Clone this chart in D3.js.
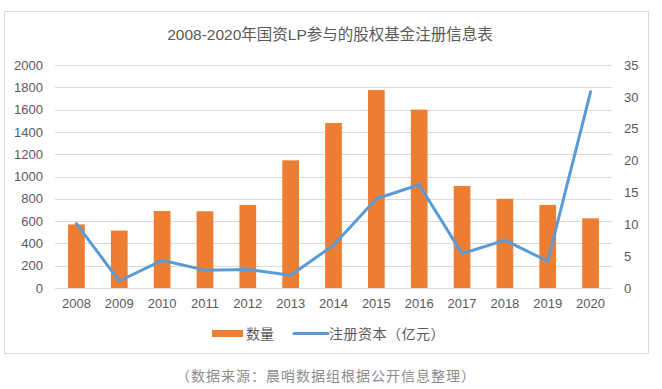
<!DOCTYPE html>
<html>
<head>
<meta charset="utf-8">
<script src="https://cdnjs.cloudflare.com/ajax/libs/d3/7.8.5/d3.min.js"></script>
<style>
body { margin: 0; background: #fff; font-family: "Liberation Sans", "Noto Sans CJK SC", sans-serif; }
.axis text { fill: #595959; font-size: 13px; }
</style>
</head>
<body>
<script>
var width = 662;
var height = 389;
var margin = {top: 65, right: 50, bottom: 101, left: 55};
var w = width - margin.left - margin.right;
var h = height - margin.top - margin.bottom;

// data
var years = ["2008", "2009", "2010", "2011", "2012", "2013", "2014", "2015", "2016", "2017", "2018", "2019", "2020"];
var counts = [570, 515, 690, 688, 745, 1145, 1480, 1775, 1600, 915, 800, 745, 625];
var capital = [10.1, 1.1, 4.35, 2.8, 2.9, 2.0, 6.7, 14.0, 16.2, 5.4, 7.5, 4.2, 30.8];
var leftTicks = [0, 200, 400, 600, 800, 1000, 1200, 1400, 1600, 1800, 2000];
var rightTicks = [0, 5, 10, 15, 20, 25, 30, 35];

var title = "2008-2020年国资LP参与的股权基金注册信息表";
var legendNames = ["数量", "注册资本（亿元）"];
var source = "（数据来源：晨哨数据组根据公开信息整理）";

var barColor = "#ED7D31";
var lineColor = "#5B9BD5";

var root = d3.select("body").append("svg")
	.attr("width", width)
	.attr("height", height);

// chart frame
root.append("rect")
	.attr("x", 4.5)
	.attr("y", 11.5)
	.attr("width", 644)
	.attr("height", 342)
	.style("fill", "none")
	.style("stroke", "#d9d9d9");

root.append("text")
	.attr("x", 330)
	.attr("y", 40)
	.style("text-anchor", "middle")
	.style("font-family", "'Liberation Sans', 'Noto Sans CJK SC', sans-serif")
	.style("font-size", "15.5px")
	.style("fill", "#595959")
	.text(title);

var chart = root.append("g")
	.attr("transform", "translate(" + margin.left + "," + margin.top + ")");

var x = d3.scaleBand()
	.domain(years)
	.range([0, w])
	.paddingInner(0.61)
	.paddingOuter(0.305);

var y = d3.scaleLinear()
	.domain([0, 2000])
	.range([h, 0]);

var y2 = d3.scaleLinear()
	.domain([0, 35])
	.range([h, 0]);

// gridlines
chart.selectAll(".grid")
	.data(leftTicks)
	.enter().append("line")
	.attr("class", "grid")
	.attr("x1", 0)
	.attr("x2", w)
	.attr("y1", function(d) { return Math.round(y(d)) + 0.5; })
	.attr("y2", function(d) { return Math.round(y(d)) + 0.5; })
	.style("stroke", "#d9d9d9");

var yAxis = d3.axisLeft(y).tickValues(leftTicks).tickFormat(d3.format("d")).tickSize(0).tickPadding(12);
chart.append("g")
	.attr("class", "axis")
	.call(yAxis)
	.call(function(g) { g.select(".domain").remove(); });

var yAxis2 = d3.axisRight(y2).tickValues(rightTicks).tickFormat(d3.format("d")).tickSize(0).tickPadding(12);
chart.append("g")
	.attr("class", "axis")
	.attr("transform", "translate(" + w + ",0)")
	.call(yAxis2)
	.call(function(g) { g.select(".domain").remove(); });

var xAxis = d3.axisBottom(x).tickSize(0).tickPadding(11);
chart.append("g")
	.attr("class", "axis")
	.attr("transform", "translate(0," + h + ")")
	.call(xAxis)
	.call(function(g) { g.select(".domain").remove(); });

// bars
chart.selectAll(".bar")
	.data(counts)
	.enter().append("rect")
	.attr("class", "bar")
	.attr("x", function(d, i) { return x(years[i]); })
	.attr("width", x.bandwidth())
	.attr("y", function(d) { return y(d); })
	.attr("height", function(d) { return h - y(d); })
	.style("fill", barColor);

// line
var line = d3.line()
	.x(function(d, i) { return x(years[i]) + x.bandwidth() / 2; })
	.y(function(d) { return y2(d); });

chart.append("path")
	.datum(capital)
	.attr("d", line)
	.style("fill", "none")
	.style("stroke", lineColor)
	.style("stroke-width", 3)
	.style("stroke-linejoin", "round")
	.style("stroke-linecap", "round");

// legend
var legend = root.append("g");
legend.append("rect")
	.attr("x", 212)
	.attr("y", 330)
	.attr("width", 31)
	.attr("height", 7)
	.style("fill", barColor);
legend.append("text")
	.attr("x", 246)
	.attr("y", 338.5)
	.style("font-family", "'Noto Sans CJK SC', sans-serif")
	.style("font-size", "14px")
	.style("fill", "#595959")
	.text(legendNames[0]);
legend.append("line")
	.attr("x1", 294)
	.attr("x2", 328)
	.attr("y1", 333.5)
	.attr("y2", 333.5)
	.style("stroke", lineColor)
	.style("stroke-width", 3)
	.style("stroke-linecap", "round");
legend.append("text")
	.attr("x", 329)
	.attr("y", 338.5)
	.style("font-family", "'Noto Sans CJK SC', sans-serif")
	.style("font-size", "14px")
	.style("letter-spacing", "0.5px")
	.style("fill", "#595959")
	.text(legendNames[1]);

// source note
root.append("text")
	.attr("x", 326)
	.attr("y", 381)
	.style("text-anchor", "middle")
	.style("font-family", "'Noto Sans CJK SC', sans-serif")
	.style("font-size", "14px")
	.style("letter-spacing", "1px")
	.style("fill", "#8c8c8c")
	.text(source);
</script>
</body>
</html>
